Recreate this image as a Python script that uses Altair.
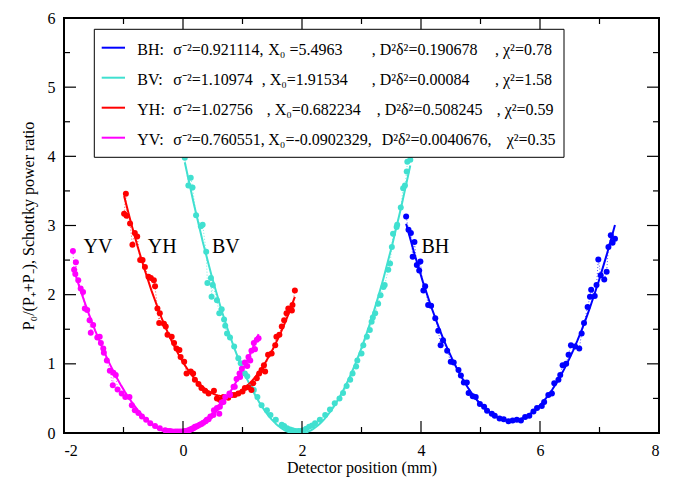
import altair as alt
import pandas as pd

SERIES = ["BH", "BV", "YH", "YV"]
COLORS = ["#0000ff", "#40e0d0", "#ff0000", "#ff00ff"]

BH_X = [3.75, 3.79, 3.83, 3.86, 3.89, 3.93, 3.97, 3.99, 4.04, 4.07, 4.12, 4.17, 4.24, 4.29, 4.33, 4.37,
        4.44, 4.50, 4.55, 4.63, 4.67, 4.72, 4.77, 4.80, 4.87, 4.92, 4.99, 5.06, 5.11, 5.19, 5.24, 5.32,
        5.39, 5.47, 5.54, 5.61, 5.68, 5.75, 5.82, 5.89, 5.95, 6.03, 6.07, 6.14, 6.20, 6.24, 6.31, 6.34,
        6.38, 6.44, 6.48, 6.52, 6.59, 6.66, 6.70, 6.74, 6.80, 6.84, 6.86, 6.92, 6.95, 6.98, 7.02, 7.08,
        7.12, 7.15, 7.19, 7.22, 7.26]
BH_Y = [3.13, 2.94, 2.89, 2.55, 2.76, 2.43, 2.35, 2.48, 2.06, 2.12, 1.85, 1.84, 1.66, 1.48, 1.27, 1.34,
        1.19, 1.03, 1.02, 0.91, 0.83, 0.73, 0.73, 0.58, 0.53, 0.52, 0.42, 0.38, 0.32, 0.28, 0.25, 0.21,
        0.20, 0.17, 0.18, 0.19, 0.18, 0.23, 0.25, 0.31, 0.36, 0.39, 0.45, 0.55, 0.57, 0.72, 0.77, 0.84,
        0.98, 1.00, 1.13, 1.27, 1.25, 1.22, 1.44, 1.59, 1.82, 1.97, 2.07, 1.98, 2.14, 2.51, 2.28, 2.22,
        2.33, 2.69, 2.86, 2.75, 2.81]

BV_X = [0.03, 0.09, 0.13, 0.16, 0.22, 0.30, 0.33, 0.39, 0.41, 0.47, 0.48, 0.50, 0.57, 0.61, 0.65, 0.69,
        0.71, 0.74, 0.79, 0.86, 0.93, 0.97, 1.04, 1.08, 1.13, 1.19, 1.25, 1.32, 1.41, 1.47, 1.56, 1.66,
        1.70, 1.75, 1.80, 1.84, 1.89, 1.94, 1.98, 2.02, 2.07, 2.12, 2.17, 2.22, 2.30, 2.39, 2.47, 2.55,
        2.63, 2.69, 2.75, 2.81, 2.85, 2.91, 2.93, 3.00, 3.03, 3.09, 3.14, 3.17, 3.19, 3.23, 3.28, 3.32,
        3.37, 3.39, 3.45, 3.48, 3.51, 3.53, 3.59, 3.60, 3.66, 3.70, 3.73, 3.76, 3.77, 3.82]
BV_Y = [3.98, 3.58, 3.69, 3.55, 3.15, 2.99, 3.01, 2.62, 2.17, 2.24, 1.97, 2.14, 1.92, 1.73, 1.79, 1.64,
        1.55, 1.44, 1.38, 1.25, 1.08, 1.01, 0.86, 0.82, 0.67, 0.62, 0.52, 0.40, 0.33, 0.26, 0.19, 0.12,
        0.10, 0.07, 0.05, 0.04, 0.03, 0.03, 0.03, 0.04, 0.06, 0.09, 0.11, 0.14, 0.19, 0.26, 0.34, 0.43,
        0.50, 0.58, 0.68, 0.77, 0.86, 0.96, 1.05, 1.15, 1.27, 1.39, 1.49, 1.61, 1.67, 1.73, 1.87, 1.99,
        2.11, 2.14, 2.36, 2.45, 2.69, 2.88, 2.98, 3.01, 3.26, 3.54, 3.58, 3.78, 3.92, 3.95]

YH_X = [-0.99, -0.96, -0.95, -0.89, -0.85, -0.81, -0.77, -0.72, -0.68, -0.64, -0.58, -0.54, -0.49, -0.47,
        -0.43, -0.40, -0.39, -0.32, -0.29, -0.26, -0.19, -0.15, -0.11, -0.06, -0.04, 0.02, 0.06, 0.13,
        0.17, 0.20, 0.26, 0.31, 0.37, 0.43, 0.52, 0.57, 0.62, 0.68, 0.76, 0.82, 0.87, 0.93, 1.00, 1.04,
        1.10, 1.15, 1.18, 1.24, 1.28, 1.32, 1.36, 1.38, 1.43, 1.49, 1.55, 1.57, 1.62, 1.66, 1.70, 1.74,
        1.77, 1.83, 1.84, 1.88]
YH_Y = [3.17, 3.46, 3.14, 3.03, 2.72, 2.89, 2.84, 2.50, 2.50, 2.40, 2.26, 2.24, 2.21, 2.12,
        1.80, 1.59, 1.73, 1.58, 1.54, 1.42, 1.39, 1.30, 1.22, 1.20, 1.10, 1.03, 0.86, 0.89,
        0.86, 0.77, 0.71, 0.65, 0.61, 0.57, 0.61, 0.50, 0.48, 0.52, 0.51, 0.55, 0.55, 0.57, 0.60, 0.65,
        0.66, 0.62, 0.72, 0.79, 0.86, 0.91, 0.98, 0.89, 1.13, 1.15, 1.27, 1.39, 1.42, 1.54, 1.63, 1.73,
        1.80, 1.77, 1.85, 2.06]

YV_X = [-1.85, -1.83, -1.81, -1.80, -1.76, -1.72, -1.68, -1.65, -1.61, -1.57, -1.55, -1.51, -1.44, -1.40,
        -1.38, -1.34, -1.33, -1.28, -1.23, -1.18, -1.17, -1.13, -1.10, -1.03, -0.97, -0.90, -0.86, -0.81,
        -0.75, -0.69, -0.62, -0.55, -0.47, -0.39, -0.30, -0.26, -0.22, -0.18, -0.13, -0.09, -0.05, -0.01,
        0.03, 0.06, 0.09, 0.12, 0.15, 0.17, 0.20, 0.24, 0.28, 0.31, 0.34, 0.38, 0.40, 0.43, 0.46, 0.51,
        0.52, 0.57, 0.61, 0.62, 0.65, 0.68, 0.71, 0.78, 0.79, 0.85, 0.87, 0.90, 0.95, 0.96, 0.99, 1.04,
        1.08, 1.10, 1.13, 1.15, 1.19, 1.21, 1.24, 1.27]
YV_Y = [2.63, 2.36, 2.30, 2.47, 2.21, 2.09, 2.04, 1.80, 1.78, 1.63, 1.45, 1.56, 1.38, 1.39,
        1.30, 1.22, 1.16, 1.05, 0.90, 0.69, 0.87, 0.84, 0.63, 0.57, 0.52, 0.52, 0.40, 0.33,
        0.29, 0.24, 0.19, 0.14, 0.10, 0.07, 0.04, 0.03, 0.03, 0.02, 0.02, 0.02, 0.02, 0.02,
        0.03, 0.03, 0.04, 0.05, 0.06, 0.07, 0.09, 0.10, 0.12, 0.13, 0.15, 0.17, 0.19, 0.20, 0.24, 0.26,
        0.33, 0.36, 0.28, 0.38, 0.44, 0.45, 0.52, 0.57, 0.55, 0.67, 0.67, 0.78, 0.86, 0.81, 0.93, 1.02,
        0.97, 1.10, 1.05, 1.19, 1.30, 1.21, 1.35, 1.37]

SIGMA_INV2 = ["0.921114", "1.10974", "1.02756", "0.760551"]
X0 = ["5.4963", "1.91534", "0.682234", "-0.0902329"]
D2DELTA2 = ["0.190678", "0.00084", "0.508245", "0.0040676"]
CHI2 = ["0.78", "1.58", "0.59", "0.35"]

CURVE_LABELS = ["YV", "YH", "BV", "BH"]
CURVE_LABEL_X = [-1.43, -0.35, 0.72, 4.24]
CURVE_LABEL_Y = [2.6, 2.6, 2.6, 2.6]

X_MAJOR = [-2, 0, 2, 4, 6, 8]
X_MINOR = [-1, 1, 3, 5, 7]
Y_MAJOR = [0, 1, 2, 3, 4, 5, 6]
Y_MINOR = [0.5, 1.5, 2.5, 3.5, 4.5, 5.5]

X_TITLE = "Detector position (mm)"
Y_TITLE = "P\u2080/(P\u208a+P\u208b), Schottky power ratio"

W, H = 595, 415
FONT = "Liberation Serif, Times New Roman, serif"

frames = []
for s, xs, ys in zip(SERIES, [BH_X, BV_X, YH_X, YV_X], [BH_Y, BV_Y, YH_Y, YV_Y]):
    frames.append(pd.DataFrame({"series": s, "x": xs, "y": ys}))
df = pd.concat(frames, ignore_index=True)

xscale = alt.Scale(domain=[-2, 8], nice=False, zero=False)
yscale = alt.Scale(domain=[0, 6], nice=False, zero=False)
color = alt.Color("series:N", scale=alt.Scale(domain=SERIES, range=COLORS), legend=None)

x_axis = alt.Axis(values=X_MAJOR, title=X_TITLE, labelExpr="'' + datum.value",
                  labelPadding=9, titlePadding=1)
y_axis = alt.Axis(values=Y_MAJOR, title=Y_TITLE, labelExpr="'' + datum.value",
                  labelPadding=9, titlePadding=11)


def X(field):
    return alt.X(field, scale=xscale, axis=x_axis)


def Y(field):
    return alt.Y(field, scale=yscale, axis=y_axis)


base = alt.Chart(df)

conn = base.mark_line(strokeDash=[1, 2], strokeWidth=1, opacity=0.7, clip=True).encode(
    x=X("x:Q"), y=Y("y:Q"), color=color, detail="series:N", order="x:Q")

pts = base.mark_circle(size=36, opacity=1, clip=True).encode(
    x=X("x:Q"), y=Y("y:Q"), color=color)

fit = base.transform_regression("x", "y", method="poly", order=2, groupby=["series"]).mark_line(
    strokeWidth=2, clip=True).encode(x=X("x:Q"), y=Y("y:Q"), color=color)

lab_df = pd.DataFrame({"t": CURVE_LABELS, "x": CURVE_LABEL_X, "y": CURVE_LABEL_Y})
labels = alt.Chart(lab_df).mark_text(font=FONT, fontSize=20, align="center", baseline="alphabetic",
                                     color="black").encode(
    x=X("x:Q"), y=Y("y:Q"), text="t:N")


# inward ticks on all four sides
def xticks(vals, length):
    d = alt.Chart(pd.DataFrame({"v": vals}))
    bot = d.mark_rule(color="black", strokeWidth=1.2).encode(
        x=X("v:Q"), y=alt.value(H), y2=alt.value(H - length))
    top = d.mark_rule(color="black", strokeWidth=1.2).encode(
        x=X("v:Q"), y=alt.value(0), y2=alt.value(length))
    return [bot, top]


def yticks(vals, length):
    d = alt.Chart(pd.DataFrame({"v": vals}))
    left = d.mark_rule(color="black", strokeWidth=1.2).encode(
        y=Y("v:Q"), x=alt.value(0), x2=alt.value(length))
    right = d.mark_rule(color="black", strokeWidth=1.2).encode(
        y=Y("v:Q"), x=alt.value(W), x2=alt.value(W - length))
    return [left, right]


ticks = xticks(X_MAJOR, 12) + xticks(X_MINOR, 6) + yticks(Y_MAJOR, 12) + yticks(Y_MINOR, 6)

one = alt.Chart(pd.DataFrame({"k": [0]}))
legend_layers = [one.mark_rect(fill="white", stroke="black", strokeWidth=1).encode(
    x=alt.value(30.3), x2=alt.value(500), y=alt.value(11.3), y2=alt.value(139.3))]

row_line_y = [29.7, 59.7, 89.7, 119.7]
row_base_y = [36.7, 66.7, 96.7, 126.7]
for i, s in enumerate(SERIES):
    legend_layers.append(one.mark_rule(color=COLORS[i], strokeWidth=2).encode(
        x=alt.value(37.7), x2=alt.value(61), y=alt.value(row_line_y[i])))
    if i == 0:
        segs = [(f"{s}:", 73.3), (f"\u03c3\u207b\u00b2={SIGMA_INV2[i]},", 109.3),
                (f"X\u2080 ={X0[i]}", 204.3), (f", D\u00b2\u03b4\u00b2={D2DELTA2[i]}", 307.7),
                (f", \u03c7\u00b2={CHI2[i]}", 431)]
    elif i == 1:
        segs = [(f"{s}:", 73.3), (f"\u03c3\u207b\u00b2={SIGMA_INV2[i]}", 109.3),
                (f", X\u2080={X0[i]}", 197.7), (f", D\u00b2\u03b4\u00b2={D2DELTA2[i]}", 307.7),
                (f", \u03c7\u00b2={CHI2[i]}", 431)]
    elif i == 2:
        segs = [(f"{s}:", 73.3), (f"\u03c3\u207b\u00b2={SIGMA_INV2[i]}", 109.3),
                (f", X\u2080={X0[i]}", 202.7), (f", D\u00b2\u03b4\u00b2={D2DELTA2[i]}", 312.7),
                (f", \u03c7\u00b2={CHI2[i]}", 432.7)]
    else:
        segs = [(f"{s}:", 73.3), (f"\u03c3\u207b\u00b2={SIGMA_INV2[i]},", 109.3),
                (f"X\u2080={X0[i]},", 204.3), (f"D\u00b2\u03b4\u00b2={D2DELTA2[i]},", 317.7),
                (f"\u03c7\u00b2={CHI2[i]}", 442.7)]
    for txt, xp in segs:
        legend_layers.append(one.mark_text(font=FONT, fontSize=16, align="left", baseline="alphabetic",
                                           color="black").encode(
            x=alt.value(xp), y=alt.value(row_base_y[i]), text=alt.value(txt)))

chart = alt.layer(conn, fit, pts, labels, *ticks, *legend_layers).properties(
    width=W, height=H,
    autosize=alt.AutoSizeParams(type="none"),
    padding={"left": 56, "top": 10, "right": 6, "bottom": 48},
).configure_view(stroke="black", strokeWidth=2).configure_axis(
    domain=False, ticks=False, tickSize=0, grid=False,
    labelFont=FONT, labelFontSize=16, labelColor="black",
    titleFont=FONT, titleFontSize=16, titleFontWeight="normal", titleColor="black",
)

chart.save("out.html", embed_options={"renderer": "svg", "actions": False})
